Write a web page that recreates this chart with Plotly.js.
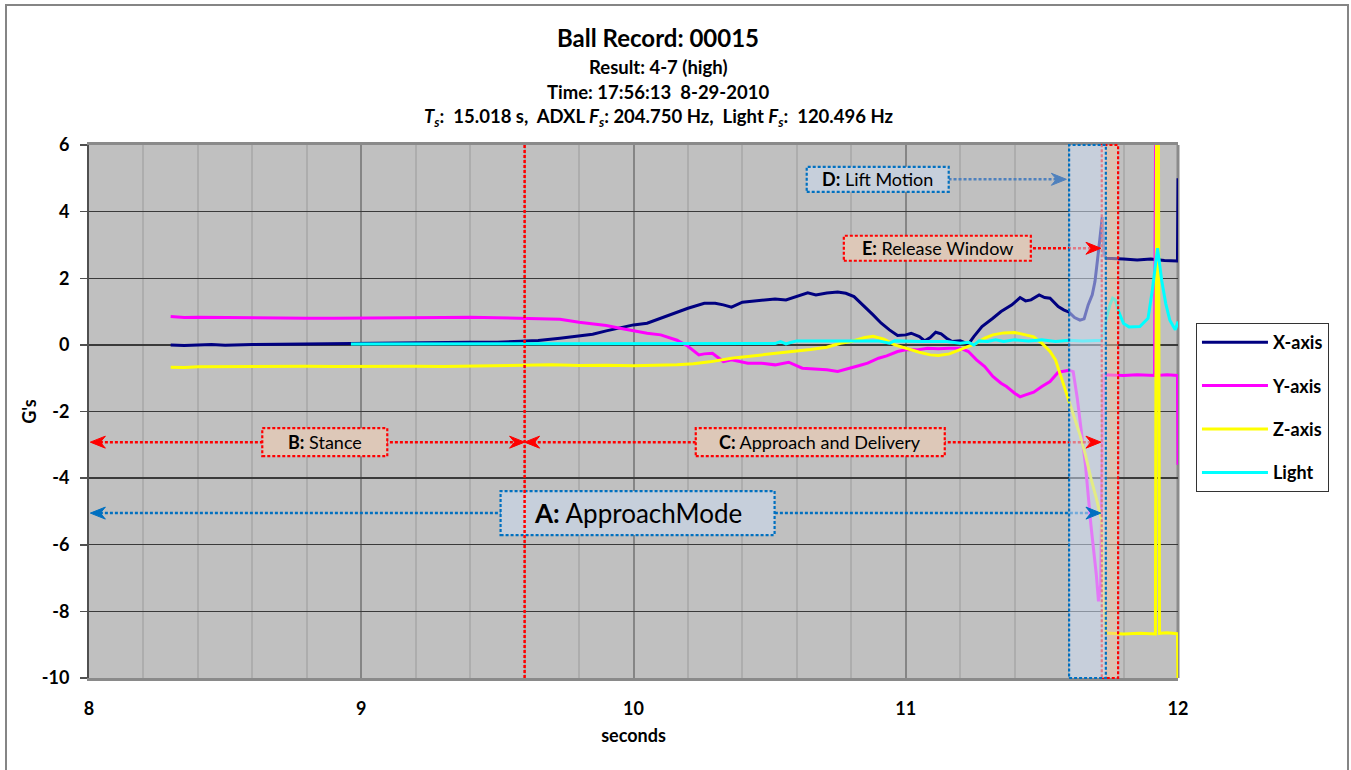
<!DOCTYPE html>
<html>
<head>
<meta charset="utf-8">
<script src="https://cdn.plot.ly/plotly-3.0.1.min.js"></script>
<style>
  html, body { margin: 0; padding: 0; background: #fff; }
  #wrap { position: relative; width: 1351px; height: 770px; }
  #chart { width: 1351px; height: 770px; }
  #frame { position: absolute; left: 5px; top: 4px; width: 1344px; height: 800px;
           border: 2px solid #858585; pointer-events: none; box-sizing: border-box; }
</style>
</head>
<body>
<div id="wrap"><div id="chart"></div><div id="frame"></div></div>
<script>
// ---------------- data ----------------
const seriesNames = ["X-axis", "Y-axis", "Z-axis", "Light"];

const xAxisT = [8.30,8.35,8.40,8.45,8.50,8.55,8.60,8.70,8.80,8.90,9.00,9.10,9.20,9.30,9.40,9.50,9.58,9.65,9.73,9.80,9.85,9.90,9.95,10.00,10.05,10.10,10.16,10.20,10.26,10.30,10.33,10.36,10.40,10.47,10.52,10.56,10.60,10.64,10.67,10.71,10.75,10.78,10.81,10.84,10.88,10.91,10.94,10.97,11.00,11.02,11.05,11.07,11.09,11.11,11.13,11.15,11.17,11.20,11.23,11.25,11.28,11.32,11.35,11.39,11.42,11.44,11.46,11.49,11.51,11.53,11.56,11.58,11.60,11.62,11.64,11.655,11.67,11.685,11.695,11.705,11.715,11.722,11.728,11.735,11.80,11.85,11.90,11.95,11.998,12.0];
const xAxisG = [0.00,-0.02,0.00,0.01,-0.01,0.01,0.01,0.02,0.03,0.05,0.06,0.06,0.07,0.07,0.08,0.08,0.10,0.13,0.20,0.28,0.32,0.42,0.50,0.60,0.65,0.80,1.00,1.10,1.25,1.25,1.20,1.13,1.28,1.33,1.38,1.35,1.45,1.56,1.50,1.56,1.59,1.55,1.45,1.22,0.90,0.65,0.45,0.28,0.30,0.35,0.25,0.12,0.22,0.38,0.33,0.20,0.10,0.12,0.02,0.25,0.55,0.80,1.00,1.20,1.42,1.32,1.35,1.50,1.42,1.40,1.15,1.05,0.98,0.82,0.74,0.78,1.20,1.50,1.90,2.60,3.40,3.84,2.70,2.60,2.58,2.55,2.58,2.53,2.52,5.00];

const yAxisT = [8.30,8.35,8.40,8.50,8.60,8.70,8.80,8.90,9.00,9.10,9.20,9.30,9.40,9.50,9.58,9.65,9.73,9.80,9.85,9.90,9.95,10.00,10.05,10.10,10.16,10.20,10.24,10.26,10.29,10.33,10.36,10.42,10.47,10.52,10.57,10.62,10.66,10.71,10.75,10.79,10.83,10.86,10.90,10.93,10.97,11.00,11.04,11.08,11.12,11.16,11.20,11.23,11.26,11.29,11.32,11.35,11.37,11.40,11.42,11.44,11.47,11.50,11.53,11.56,11.58,11.60,11.615,11.63,11.66,11.68,11.70,11.708,11.716,11.722,11.726,11.80,11.85,11.914,11.918,11.922,11.96,11.998,12.0];
const yAxisG = [0.85,0.82,0.83,0.82,0.80,0.81,0.80,0.80,0.80,0.81,0.82,0.82,0.83,0.81,0.80,0.78,0.77,0.68,0.64,0.58,0.50,0.42,0.35,0.30,0.14,-0.04,-0.30,-0.27,-0.25,-0.50,-0.45,-0.55,-0.55,-0.60,-0.52,-0.70,-0.72,-0.75,-0.80,-0.70,-0.62,-0.55,-0.40,-0.33,-0.20,-0.15,-0.15,-0.10,-0.12,-0.10,-0.10,-0.20,-0.45,-0.65,-0.95,-1.15,-1.25,-1.45,-1.56,-1.50,-1.42,-1.25,-1.10,-0.82,-0.78,-0.76,-0.80,-1.60,-3.60,-5.40,-6.90,-7.70,-7.20,-2.00,-0.90,-0.92,-0.90,-0.92,7.00,-0.92,-0.90,-0.92,-3.60];

const zAxisT = [8.30,8.35,8.40,8.50,8.60,8.70,8.80,8.90,9.00,9.10,9.20,9.30,9.40,9.50,9.60,9.70,9.80,9.90,10.00,10.10,10.16,10.22,10.28,10.36,10.42,10.47,10.53,10.59,10.65,10.71,10.76,10.80,10.85,10.88,10.92,10.96,11.00,11.05,11.09,11.12,11.16,11.20,11.23,11.26,11.29,11.32,11.36,11.40,11.44,11.47,11.50,11.53,11.55,11.57,11.60,11.62,11.64,11.66,11.68,11.70,11.71,11.72,11.726,11.735,11.80,11.86,11.917,11.921,11.928,11.932,11.96,11.998,12.0];
const zAxisG = [-0.67,-0.68,-0.66,-0.65,-0.66,-0.64,-0.64,-0.65,-0.64,-0.65,-0.64,-0.65,-0.64,-0.63,-0.62,-0.60,-0.62,-0.61,-0.63,-0.62,-0.60,-0.57,-0.51,-0.40,-0.35,-0.30,-0.25,-0.20,-0.14,-0.07,0.05,0.10,0.22,0.26,0.17,0.00,-0.10,-0.22,-0.30,-0.32,-0.27,-0.15,-0.05,0.05,0.20,0.30,0.36,0.37,0.30,0.24,0.05,-0.20,-0.45,-0.96,-1.70,-2.20,-2.70,-3.30,-4.00,-4.60,-5.00,-5.30,-7.50,-8.65,-8.68,-8.66,-8.68,7.00,7.00,-8.66,-8.64,-8.67,-10.50];

const lightT = [8.962,9.20,9.50,9.80,10.00,10.20,10.40,10.52,10.54,10.56,10.58,10.60,10.70,10.80,10.90,10.94,10.96,11.05,11.15,11.20,11.23,11.25,11.27,11.30,11.33,11.36,11.40,11.45,11.50,11.55,11.60,11.65,11.72,11.735,11.75,11.76,11.77,11.78,11.80,11.82,11.86,11.89,11.905,11.925,11.94,11.955,11.97,11.99,12.0];
const lightG = [0.03,0.03,0.03,0.03,0.03,0.03,0.03,0.04,0.10,0.03,0.08,0.12,0.12,0.12,0.12,0.05,0.12,0.10,0.10,0.05,0.08,0.00,0.12,0.10,0.15,0.10,0.15,0.12,0.15,0.10,0.14,0.12,0.14,0.74,1.20,1.40,1.35,1.04,0.64,0.54,0.55,0.80,1.60,2.90,1.94,1.24,0.74,0.45,0.70];

const xTickVals = [8, 9, 10, 11, 12];
const yTickVals = [-10, -8, -6, -4, -2, 0, 2, 4, 6];
const yTickText = ["-10", "-8", "-6", "-4", "-2", "0", "2", "4", "6"];

// phase marks (seconds)
const chartStart = 8.0, stanceEnd = 9.6, liftStart = 11.60, liftEnd = 11.735,
      releaseStart = 11.72, releaseEnd = 11.78, arrowEnd = 11.717;

// ---------------- styling ----------------
const FONT = "Lato, 'Open Sans', 'DejaVu Sans', sans-serif";
const RED = "#ff0000", BLUE = "#0070c0", STEEL = "#4f81bd";
const DOT = "3px,2px";
const colors = ["#000080", "#ff00ff", "#ffff00", "#00ffff"];

const series = [[xAxisT, xAxisG], [yAxisT, yAxisG], [zAxisT, zAxisG], [lightT, lightG]];
const traces = series.map((s, i) => ({
  type: "scatter", mode: "lines", x: s[0], y: s[1], name: seriesNames[i],
  legendgroup: "g" + i,
  line: { color: colors[i], width: 3 }
}));

const shapes = [];
const annotations = [];

function dline(x0, x1, y, color) {
  shapes.push({ type: "line", xref: "x", yref: "y", x0: x0, x1: x1, y0: y, y1: y,
    line: { color: color, width: 2.5, dash: DOT }, layer: "above" });
}
function head(x, y, dir, color) {
  const p = dir > 0 ? "M0,0 L-15,6 L-10,0 L-15,-6 Z" : "M0,0 L15,6 L10,0 L15,-6 Z";
  shapes.push({ type: "path", xref: "x", yref: "y", xsizemode: "pixel", ysizemode: "pixel",
    xanchor: x, yanchor: y, path: p, fillcolor: color, line: { color: color, width: 1 }, layer: "above" });
}
function box(cx, cy, w, h, fill, border, label, rest, size) {
  shapes.push({ type: "rect", xref: "x", yref: "y", xsizemode: "pixel", ysizemode: "pixel",
    xanchor: cx, yanchor: cy, x0: -w / 2, x1: w / 2, y0: -h / 2, y1: h / 2,
    fillcolor: fill, line: { color: border, width: 2.2, dash: DOT }, layer: "above" });
  annotations.push({ xref: "x", yref: "y", x: cx, y: cy, showarrow: false,
    text: "<b>" + label + "</b> " + rest, font: { family: FONT, size: size, color: "#000" },
    xanchor: "center", yanchor: "middle" });
}

// dotted arrow lines (under the boxes)
const yBC = -2.92, yA = -5.05, yD = 4.97, yE = 2.9;
dline(chartStart + 0.04, stanceEnd - 0.03, yBC, RED);
dline(stanceEnd + 0.03, arrowEnd - 0.03, yBC, RED);
dline(chartStart + 0.04, arrowEnd - 0.03, yA, BLUE);
dline(10.9, liftStart - 0.04, yD, STEEL);
dline(11.1, arrowEnd - 0.03, yE, RED);

// boxes
const PEACH = "#ddc8b8", BLUISH = "#c6cfdb";
box(8.866, yBC, 125, 28, PEACH, RED, "B:", "Stance", 18);
box(10.686, yBC, 249, 28, PEACH, RED, "C:", "Approach and Delivery", 18);
box(10.015, yA, 274, 44, BLUISH, BLUE, "A:", "ApproachMode", 26);
box(10.897, yD, 142, 25, BLUISH, BLUE, "D:", "Lift Motion", 18);
box(11.116, yE, 187, 25, PEACH, RED, "E:", "Release Window", 18);

// vertical stance / approach boundary
shapes.push({ type: "line", xref: "x", yref: "paper", x0: stanceEnd, x1: stanceEnd, y0: 0, y1: 1,
  line: { color: RED, width: 2.5, dash: DOT }, layer: "above" });

// release window and lift motion bands (drawn over the data)
shapes.push({ type: "rect", xref: "x", yref: "paper", x0: releaseStart, x1: releaseEnd, y0: 0, y1: 1,
  fillcolor: "rgba(246,200,168,0.5)", line: { color: RED, width: 2.2, dash: DOT }, layer: "above" });
shapes.push({ type: "rect", xref: "x", yref: "paper", x0: liftStart, x1: liftEnd, y0: 0, y1: 1,
  fillcolor: "rgba(204,218,240,0.55)", line: { color: BLUE, width: 2.2, dash: DOT }, layer: "above" });

// arrowheads
head(chartStart + 0.005, yBC, -1, RED);
head(stanceEnd, yBC, 1, RED);
head(stanceEnd, yBC, -1, RED);
head(arrowEnd, yBC, 1, RED);
head(chartStart + 0.005, yA, -1, BLUE);
head(arrowEnd, yA, 1, BLUE);
head(liftStart - 0.01, yD, 1, STEEL);
head(arrowEnd, yE, 1, RED);

// right border of plot area (under the data)
shapes.push({ type: "line", xref: "paper", yref: "paper", x0: 1, x1: 1, y0: 0, y1: 1,
  line: { color: "#8a8a8a", width: 3 }, layer: "below" });

// titles
const plotH = 533;
const py = p => (678 - p) / plotH;
const tx = (658 - 89) / 1089;
function ttl(text, p, size) {
  annotations.push({ xref: "paper", yref: "paper", x: tx, y: py(p), showarrow: false,
    xanchor: "center", yanchor: "middle", text: text,
    font: { family: FONT, size: size, color: "#000" } });
}
ttl("<b>Ball Record:\u00a000015</b>", 38, 24);
ttl("<b>Result: 4-7 (high)</b>", 67, 18.5);
ttl("<b>Time: 17:56:13\u00a0\u00a08-29-2010</b>", 92, 18.5);
ttl("<b><i>T</i><sub><i>s</i></sub>:\u00a0\u00a015.018 s,\u00a0\u00a0ADXL <i>F</i><sub><i>s</i></sub>: 204.750 Hz,\u00a0\u00a0Light <i>F</i><sub><i>s</i></sub>:\u00a0\u00a0120.496 Hz</b>", 117, 18.5);

const layout = {
  width: 1351, height: 770,
  margin: { l: 89, r: 173, t: 145, b: 92, pad: 0 },
  paper_bgcolor: "#ffffff", plot_bgcolor: "#c0c0c0",
  font: { family: FONT, size: 18, color: "#000" },
  showlegend: true,
  legend: {
    x: 1.0165, y: py(323), xanchor: "left", yanchor: "top",
    bgcolor: "#ffffff", bordercolor: "#333", borderwidth: 1,
    font: { family: FONT, size: 18, color: "#000", weight: "bold" },
    traceorder: "grouped", tracegroupgap: 17, itemwidth: 66
  },
  xaxis: {
    range: [8, 12], tickvals: xTickVals, ticktext: xTickVals.map(String),
    showgrid: true, gridcolor: "#858585", gridwidth: 2,
    minor: { dtick: 0.2, showgrid: true, gridcolor: "#adadad", gridwidth: 2, ticks: "" },
    zeroline: false, showline: true, mirror: true, linecolor: "#8a8a8a", linewidth: 3,
    ticks: "", ticklabelstandoff: 12, layer: "below traces",
    tickfont: { family: FONT, size: 18, color: "#000", weight: "bold" },
    title: { text: "<b>seconds</b>", font: { family: FONT, size: 18, color: "#000" }, standoff: 12 }
  },
  yaxis: {
    range: [-10, 6], tickvals: yTickVals, ticktext: yTickText,
    showgrid: true, gridcolor: "#3a3a3a", gridwidth: 1.3,
    zeroline: false, showline: true, linecolor: "#505050", linewidth: 2,
    ticks: "outside", ticklen: 7, tickcolor: "#505050", tickwidth: 1.5,
    ticklabelstandoff: 7, layer: "below traces",
    tickfont: { family: FONT, size: 18, color: "#000", weight: "bold" },
    title: { text: "<b>G's</b>", font: { family: FONT, size: 18, color: "#000" }, standoff: 0 }
  },
  shapes: shapes,
  annotations: annotations
};

Plotly.newPlot("chart", traces, layout, { displayModeBar: false, staticPlot: true });
</script>
</body>
</html>
